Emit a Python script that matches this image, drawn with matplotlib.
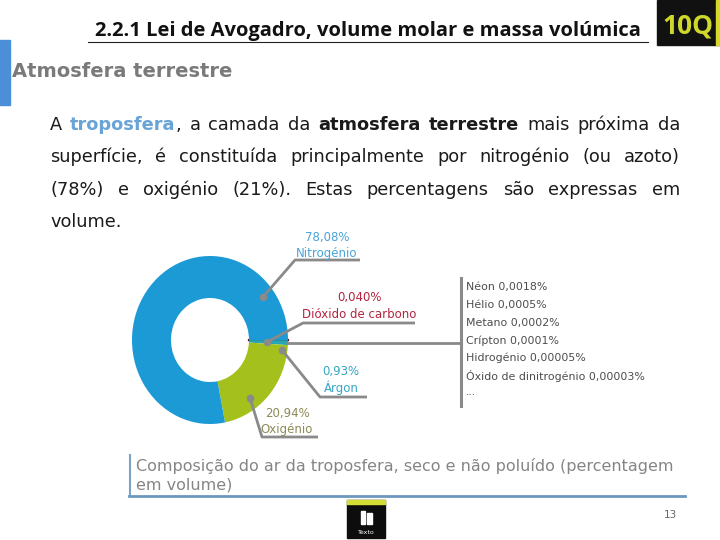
import matplotlib.pyplot as plt
from matplotlib.patches import Rectangle

# composition of dry air (% by volume)
gases = ["Dióxido de carbono", "Outros", "Árgon", "Oxigénio", "Nitrogénio"]
percent = [0.040, 0.00268, 0.93, 20.94, 78.08]
gas_colors = ["#4a1d3f", "#4a1d3f", "#27a6b8", "#a3c01c", "#1b9ad6"]
pct_labels = ["0,040%", None, "0,93%", "20,94%", "78,08%"]

trace_names = ["Néon", "Hélio", "Metano", "Crípton", "Hidrogénio", "Óxido de dinitrogénio"]
trace_pct = ["0,0018%", "0,0005%", "0,0002%", "0,0001%", "0,00005%", "0,00003%"]

fig = plt.figure(figsize=(7.2, 5.4), dpi=100)
fig.patch.set_facecolor("white")

# donut
ax = fig.add_axes([132 / 720, (540 - 424) / 540, 156 / 720, 168 / 540])
wedges, _ = ax.pie(percent, colors=gas_colors, startangle=0, counterclock=False,
                   wedgeprops=dict(width=0.5, linewidth=0))
wedges[0].set_edgecolor(gas_colors[0])
wedges[0].set_linewidth(1.6)
ax.set_aspect("auto")
ax.set_xlim(-1, 1)
ax.set_ylim(-1, 1)

# overlay in pixel coordinates for the slide text
bg = fig.add_axes([0, 0, 1, 1])
bg.set_xlim(0, 720)
bg.set_ylim(540, 0)
bg.axis("off")
bg.patch.set_visible(False)
bg.set_zorder(3)

# header
bg.text(95, 36, "2.2.1 Lei de Avogadro, volume molar e massa volúmica", fontsize=14.5,
        fontweight="bold", family="Open Sans", color="#111111", va="baseline")
bg.plot([88, 648], [42, 42], color="#222222", lw=0.8)
bg.add_patch(Rectangle((657, 0), 63, 45, color="#111111"))
bg.add_patch(Rectangle((716, 0), 4, 45, color="#d6d82a"))
bg.text(662, 33, "10Q", fontsize=19, fontweight="bold", family="Open Sans",
        color="#cfd82a", va="baseline")

# section title
bg.add_patch(Rectangle((0, 40), 10, 65, color="#4a8fd8"))
bg.text(12, 77, "Atmosfera terrestre", fontsize=14, fontweight="bold",
        color="#7a7a7a", va="baseline")

# justified paragraph
renderer = fig.canvas.get_renderer()
para_size = 12.8


def draw_line(words, y, x0, x1, justify=True):
    placed = []
    total = 0
    for word in words:
        runs = []
        for txt, kw in word:
            t = bg.text(0, y, txt, fontsize=para_size, va="baseline", **kw)
            w = t.get_window_extent(renderer).width
            runs.append((t, w))
            total += w
        placed.append(runs)
    gap = (x1 - x0 - total) / (len(words) - 1) if justify else 7
    x = x0
    for runs in placed:
        for t, w in runs:
            t.set_x(x)
            x += w
        x += gap


plain = dict(color="#1a1a1a")
bold = dict(color="#1a1a1a", fontweight="bold")
blue = dict(color="#6aa3d6", fontweight="bold")

line1 = [[("A", plain)], [("troposfera", blue), (",", plain)], [("a", plain)],
         [("camada", plain)], [("da", plain)], [("atmosfera", bold)],
         [("terrestre", bold)], [("mais", plain)], [("próxima", plain)], [("da", plain)]]
draw_line(line1, 130, 50, 680)
line2 = [[(w, plain)] for w in "superfície, é constituída principalmente por nitrogénio (ou azoto)".split()]
draw_line(line2, 162, 50, 680)
line3 = [[(w, plain)] for w in "(78%) e oxigénio (21%). Estas percentagens são expressas em".split()]
draw_line(line3, 195, 50, 680)
draw_line([[("volume.", plain)]], 227, 50, 680, justify=False)

# leader lines and donut labels
lab_font = ["Liberation Sans Narrow", "DejaVu Sans"]
lead = "#8a8a8a"
leaders = {
    "Nitrogénio": ([(263, 297), (295, 260), (360, 260)], (327, 238), "#4aa3d8"),
    "Dióxido de carbono": ([(267, 342), (303, 323), (415, 323)], (359, 298), "#b3243f"),
    "Outros": ([(286, 343), (460, 343)], None, None),
    "Árgon": ([(282, 350), (320, 397), (367, 397)], (341, 372), "#35a7c4"),
    "Oxigénio": ([(250, 398), (262, 437), (318, 437)], (287, 413), "#8c8a55"),
}
for name, pct in zip(gases, pct_labels):
    pts, lab, col = leaders[name]
    xs, ys = zip(*pts)
    bg.plot(xs, ys, color=lead, lw=2.0, solid_capstyle="butt")
    if lab is not None:
        bg.plot(xs[0], ys[0], "o", color=lead, ms=4.5)
        bg.text(lab[0], lab[1], pct, color=col, fontsize=8.5, family=lab_font,
                ha="center", va="center")
        bg.text(lab[0], lab[1] + 16, name, color=col, fontsize=8.5, family=lab_font,
                ha="center", va="center")

# trace gases list
bg.plot([461, 461], [278, 406], color=lead, lw=2.2)
for i, (n, p) in enumerate(zip(trace_names, trace_pct)):
    bg.text(466, 287 + i * 17.8, f"{n} {p}", color="#4d4d4d", fontsize=7.9,
            family=lab_font, va="center")
bg.text(466, 392, "...", color="#4d4d4d", fontsize=7.9, family=lab_font, va="center")

# caption
bg.plot([130, 130], [455, 496], color="#7da2c4", lw=1.5)
bg.plot([129, 685], [496, 496], color="#6c98c0", lw=2)
bg.text(136, 471, "Composição do ar da troposfera, seco e não poluído (percentagem",
        color="#858585", fontsize=11.5, va="baseline")
bg.text(136, 490, "em volume)", color="#858585", fontsize=11.5, va="baseline")

# footer
bg.add_patch(Rectangle((347, 500), 38, 38, color="#0d0d0d"))
bg.add_patch(Rectangle((347, 500), 38, 4, color="#d4dc36"))
bg.add_patch(Rectangle((361, 511), 4, 13, color="white"))
bg.add_patch(Rectangle((367, 513), 5, 11, color="white"))
bg.text(366, 533, "Texto", color="white", fontsize=4.5, ha="center", va="center")
bg.text(677, 515, "13", color="#666666", fontsize=7.5, ha="right", va="center")

fig.savefig("out.png", dpi=100)
